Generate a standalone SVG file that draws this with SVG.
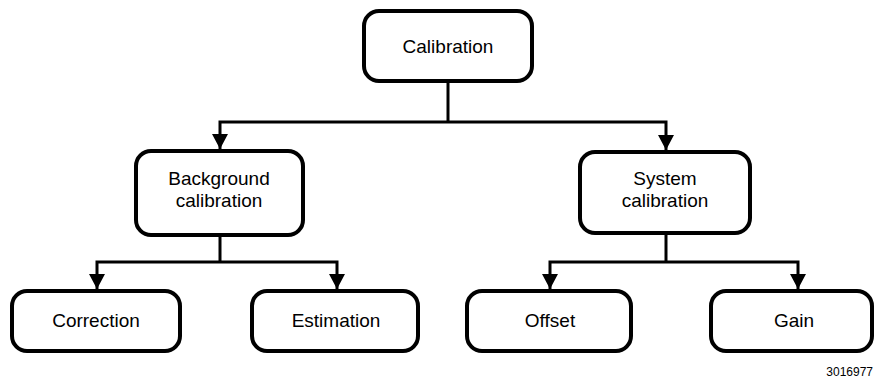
<svg xmlns="http://www.w3.org/2000/svg" width="875" height="378" viewBox="0 0 875 378">
<style>
.box{fill:#fff;stroke:#000;stroke-width:4}
.lbl{font-family:"Liberation Sans",Arial,sans-serif;font-size:19px;fill:#000;text-anchor:middle}
.con{fill:none;stroke:#000;stroke-width:3;stroke-linejoin:miter}
.id{font-family:"Liberation Sans",Arial,sans-serif;font-size:12px;fill:#000;text-anchor:end}
</style>
<defs>
<marker id="arr" markerUnits="userSpaceOnUse" markerWidth="16" markerHeight="16" viewBox="0 0 16 16" refX="15" refY="8" orient="auto">
<path d="M0,0 L15,8 L0,16 Z" fill="#000"/>
</marker>
</defs>
<rect width="875" height="378" fill="#fff"/>
<g id="connectors">
<path class="con" d="M448,83 V122"/>
<path class="con" d="M448,122 H220 V149" marker-end="url(#arr)"/>
<path class="con" d="M448,122 H666 V150" marker-end="url(#arr)"/>
<path class="con" d="M220,236 V262"/>
<path class="con" d="M220,262 H97 V289" marker-end="url(#arr)"/>
<path class="con" d="M220,262 H337 V289" marker-end="url(#arr)"/>
<path class="con" d="M666,234 V262"/>
<path class="con" d="M666,262 H550 V289" marker-end="url(#arr)"/>
<path class="con" d="M666,262 H798 V289" marker-end="url(#arr)"/>
</g>
<g id="calibration">
<rect class="box" x="364" y="11" width="168" height="70" rx="15"/>
<text class="lbl" x="448" y="53">Calibration</text>
</g>
<g id="background">
<rect class="box" x="136" y="151" width="167" height="84" rx="15"/>
<text class="lbl" x="219" y="185">Background</text>
<text class="lbl" x="219" y="207">calibration</text>
</g>
<g id="system">
<rect class="box" x="580" y="152" width="170" height="81" rx="15"/>
<text class="lbl" x="665" y="185">System</text>
<text class="lbl" x="665" y="207">calibration</text>
</g>
<g id="correction">
<rect class="box" x="12" y="291" width="168" height="60" rx="15"/>
<text class="lbl" x="96" y="327">Correction</text>
</g>
<g id="estimation">
<rect class="box" x="252" y="291" width="166" height="60" rx="15"/>
<text class="lbl" x="336" y="327">Estimation</text>
</g>
<g id="offset">
<rect class="box" x="467" y="291" width="164" height="60" rx="15"/>
<text class="lbl" x="550" y="327">Offset</text>
</g>
<g id="gain">
<rect class="box" x="711" y="291" width="161" height="60" rx="15"/>
<text class="lbl" x="794" y="327">Gain</text>
</g>
<text class="id" x="873" y="376">3016977</text>
</svg>
